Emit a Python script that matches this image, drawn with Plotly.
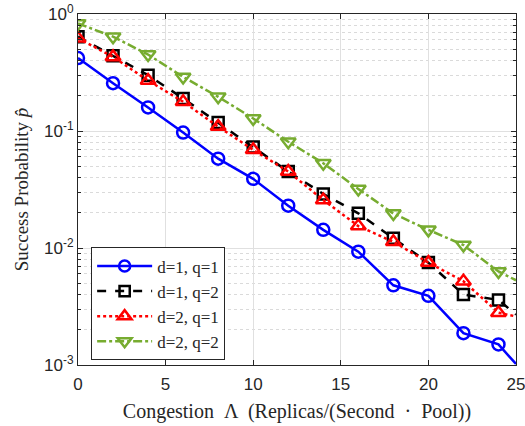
import plotly.graph_objects as go

x = [0, 2, 4, 6, 8, 10, 12, 14, 16, 18, 20, 22, 24, 25]
p_d1q1 = [0.42, 0.256, 0.159, 0.097, 0.058, 0.039, 0.023, 0.0143, 0.0093, 0.0048, 0.0039, 0.00187, 0.0015, 0.00102]
p_d1q2 = [0.64, 0.44, 0.30, 0.19, 0.118, 0.073, 0.045, 0.029, 0.0198, 0.0121, 0.0075, 0.0040, 0.0036, 0.0027]
p_d2q1 = [0.62, 0.43, 0.27, 0.178, 0.109, 0.069, 0.045, 0.0257, 0.0154, 0.0113, 0.0075, 0.0052, 0.0028, 0.0026]
p_d2q2 = [0.83, 0.64, 0.45, 0.29, 0.196, 0.128, 0.081, 0.053, 0.032, 0.0197, 0.0143, 0.0106, 0.0063, 0.0053]

names = ["d=1, q=1", "d=1, q=2", "d=2, q=1", "d=2, q=2"]
series = [p_d1q1, p_d1q2, p_d2q1, p_d2q2]
colors = ["#0000ff", "#000000", "#ff0000", "#77ac30"]
dashes = ["solid", "dash", "dot", "dashdot"]
symbols = ["circle-open", "square-open", "triangle-up-open", "triangle-down-open"]
sizes = [12, 11, 13, 13]

ytickvals = [1e-3, 1e-2, 1e-1, 1]
yticktext = ["10<sup>-3</sup>", "10<sup>-2</sup>", "10<sup>-1</sup>", "10<sup>0</sup>"]

fig = go.Figure()
for name, y, c, d, s, sz in zip(names, series, colors, dashes, symbols, sizes):
    n = len(x) - 1  # last point (x=25) has no marker
    fig.add_trace(go.Scatter(
        x=x, y=y, name=name, mode="lines+markers",
        line=dict(color=c, dash=d, width=2.5),
        marker=dict(symbol=s, size=[sz] * n + [0], color=c, opacity=1,
                    line=dict(width=2.5, color=c)),
    ))

serif = "Liberation Serif, DejaVu Serif, serif"
sans = "Liberation Sans, Arial, sans-serif"
ink = "#262626"

fig.update_layout(
    width=525, height=426,
    margin=dict(l=78, r=9, t=14, b=61),
    plot_bgcolor="white", paper_bgcolor="white",
    showlegend=True,
    legend=dict(
        x=0.03, y=0.335, xanchor="left", yanchor="top",
        bgcolor="white", bordercolor=ink, borderwidth=1,
        font=dict(family=serif, size=17, color=ink),
        tracegroupgap=0, itemwidth=55,
    ),
    xaxis=dict(
        range=[0, 25], tickvals=[0, 5, 10, 15, 20, 25],
        automargin=False, ticklabeloverflow="allow",
        showgrid=True, gridcolor="#e0e0e0", gridwidth=1,
        showline=True, linecolor=ink, linewidth=1, mirror="ticks",
        ticks="inside", ticklen=5, tickcolor=ink,
        tickfont=dict(family=sans, size=17, color=ink),
        ticklabelstandoff=4,
        title=dict(text="Congestion  Λ  (Replicas/(Second  ·  Pool))",
                   font=dict(family=serif, size=20, color=ink), standoff=10),
        zeroline=False,
    ),
    yaxis=dict(
        type="log", range=[-3, 0],
        tickvals=ytickvals, ticktext=yticktext,
        automargin=False, ticklabeloverflow="allow",
        showgrid=True, gridcolor="#e0e0e0", gridwidth=1,
        showline=True, linecolor=ink, linewidth=1, mirror="ticks",
        ticks="inside", ticklen=5, tickcolor=ink,
        tickfont=dict(family=sans, size=17, color=ink),
        title=dict(text="Success Probability <i>p̂</i>",
                   font=dict(family=serif, size=19, color=ink), standoff=10),
        minor=dict(ticks="inside", ticklen=3, tickcolor=ink,
                   showgrid=True, gridcolor="#dadada", griddash="dot", gridwidth=1,
                   dtick="D1"),
        zeroline=False,
    ),
)

fig.write_html("out.html", config={"displayModeBar": False},
               post_script="document.body.style.margin='0';")
